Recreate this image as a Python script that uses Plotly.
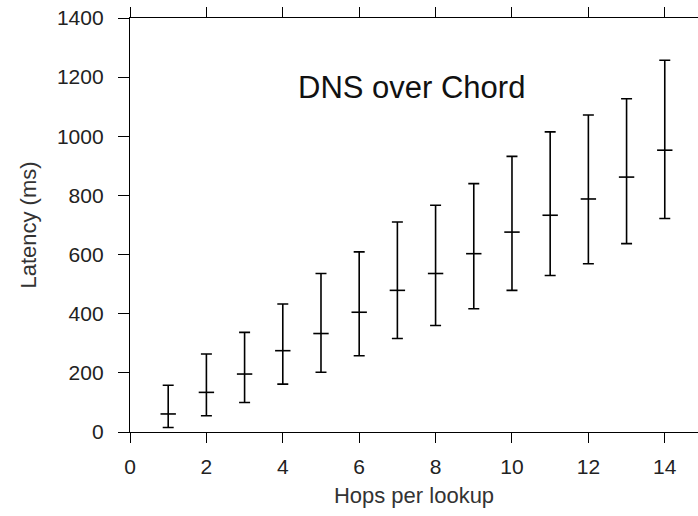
import plotly.graph_objects as go

hops = [1, 2, 3, 4, 5, 6, 7, 8, 9, 10, 11, 12, 13, 14]
median_ms = [61, 134, 196, 275, 333, 405, 479, 536, 603, 676, 733, 788, 862, 953]
upper_ms = [158, 264, 337, 433, 536, 609, 710, 767, 840, 932, 1015, 1072, 1127, 1257]
lower_ms = [15, 55, 100, 162, 202, 258, 316, 360, 417, 479, 529, 569, 637, 722]

x_ticks = [0, 2, 4, 6, 8, 10, 12, 14]
y_ticks = [0, 200, 400, 600, 800, 1000, 1200, 1400]

err_plus = [u - m for u, m in zip(upper_ms, median_ms)]
err_minus = [m - l for m, l in zip(median_ms, lower_ms)]

fig = go.Figure()
fig.add_trace(go.Scatter(
    x=hops, y=median_ms, mode="markers",
    marker=dict(symbol="line-ew", size=11, color="black",
                line=dict(width=1.6, color="black")),
    error_y=dict(type="data", symmetric=False, array=err_plus,
                 arrayminus=err_minus, color="black", thickness=1.6, width=5.5),
    showlegend=False, hoverinfo="skip",
))

font_family = "Liberation Sans, Arial, Helvetica, sans-serif"

fig.add_annotation(x=7.36, y=1165, text="DNS over Chord", showarrow=False,
                   font=dict(family=font_family, size=31, color="#111111"),
                   xanchor="center", yanchor="middle")

fig.update_layout(
    width=698, height=516,
    margin=dict(l=130, r=0, t=18, b=84),
    paper_bgcolor="white", plot_bgcolor="white",
    font=dict(family=font_family, color="#222222"),
    xaxis=dict(
        range=[0, 14.87], tickvals=x_ticks, ticks="outside", ticklen=10,
        tickwidth=1.3, tickcolor="black", showline=True, linewidth=1.3,
        linecolor="black", mirror="ticks", showgrid=False, zeroline=False,
        tickfont=dict(size=21, color="#222222"), ticklabelstandoff=6,
        title=dict(text="Hops per lookup", font=dict(size=22, color="#333333"), standoff=10),
    ),
    yaxis=dict(
        range=[0, 1400], tickvals=y_ticks, ticks="outside", ticklen=11,
        tickwidth=1.3, tickcolor="black", showline=True, linewidth=1.3,
        linecolor="black", showgrid=False, zeroline=False,
        tickfont=dict(size=21, color="#222222"), ticklabelstandoff=10,
        title=dict(text="Latency (ms)", font=dict(size=22, color="#333333"), standoff=14),
    ),
)

fig.write_html("out.html")
